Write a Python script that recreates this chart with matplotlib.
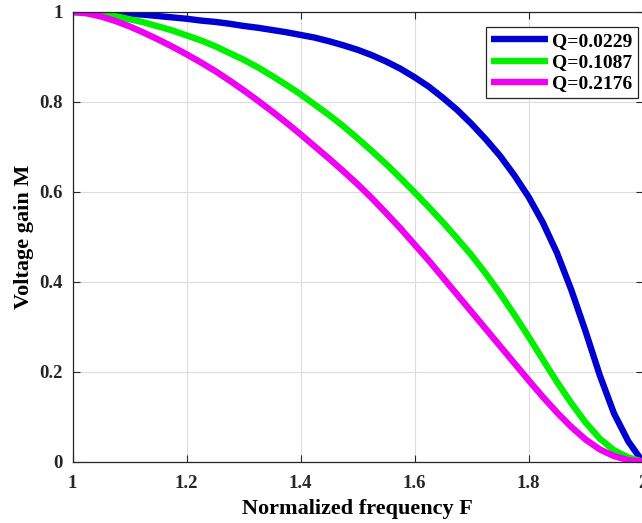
import matplotlib
matplotlib.use("Agg")
import matplotlib.pyplot as plt

plt.rcParams['font.family'] = ['Liberation Serif', 'DejaVu Serif']
plt.rcParams['font.weight'] = 'bold'

# normalized frequency F
freq = [1.000, 1.025, 1.050, 1.075, 1.100, 1.125, 1.150, 1.175, 1.200, 1.225,
        1.250, 1.275, 1.300, 1.325, 1.350, 1.375, 1.400, 1.425, 1.450, 1.475,
        1.500, 1.525, 1.550, 1.575, 1.600, 1.625, 1.650, 1.675, 1.700, 1.725,
        1.750, 1.775, 1.800, 1.825, 1.850, 1.875, 1.900, 1.925, 1.950, 1.975,
        2.000]

# voltage gain M for each quality factor
gain_q1 = [1.000, 1.000, 0.999, 0.998, 0.996, 0.994, 0.991, 0.988, 0.985, 0.981,
           0.978, 0.974, 0.969, 0.965, 0.960, 0.955, 0.949, 0.943, 0.935, 0.926,
           0.916, 0.904, 0.890, 0.874, 0.855, 0.834, 0.809, 0.782, 0.751, 0.717,
           0.680, 0.637, 0.589, 0.532, 0.464, 0.382, 0.290, 0.192, 0.107, 0.045,
           0.000]
gain_q2 = [1.000, 0.999, 0.996, 0.991, 0.984, 0.977, 0.968, 0.959, 0.948, 0.937,
           0.924, 0.909, 0.894, 0.877, 0.858, 0.838, 0.817, 0.794, 0.771, 0.746,
           0.719, 0.691, 0.662, 0.631, 0.599, 0.566, 0.532, 0.496, 0.459, 0.418,
           0.374, 0.327, 0.278, 0.227, 0.177, 0.130, 0.087, 0.051, 0.025, 0.009,
           0.000]
gain_q3 = [1.000, 0.997, 0.990, 0.980, 0.968, 0.954, 0.939, 0.923, 0.906, 0.888,
           0.869, 0.848, 0.826, 0.803, 0.779, 0.754, 0.728, 0.701, 0.674, 0.646,
           0.617, 0.586, 0.553, 0.519, 0.483, 0.447, 0.409, 0.371, 0.333, 0.295,
           0.257, 0.219, 0.181, 0.144, 0.109, 0.077, 0.049, 0.027, 0.012, 0.003,
           0.000]

labels = ['Q=0.0229', 'Q=0.1087', 'Q=0.2176']
colors = ['#0000d0', '#00f000', '#f000f0']

fig = plt.figure(figsize=(6.42, 5.23), dpi=100)
ax = fig.add_axes([72.5 / 642, 1 - 461.5 / 523, 570 / 642, 449.5 / 523])

for g, lab, c in zip([gain_q1, gain_q2, gain_q3], labels, colors):
    ax.plot(freq, g, color=c, linewidth=4.6, label=lab,
            solid_joinstyle='round', solid_capstyle='butt')

ax.set_xlim(1, 2)
ax.set_ylim(0, 1)
ax.set_xticks([1, 1.2, 1.4, 1.6, 1.8, 2])
ax.set_xticklabels(['1', '1.2', '1.4', '1.6', '1.8', '2'])
ax.set_yticks([0, 0.2, 0.4, 0.6, 0.8, 1])
ax.set_yticklabels(['0', '0.2', '0.4', '0.6', '0.8', '1'])
ax.grid(True, color='#dcdcdc', linewidth=0.8)
ax.set_axisbelow(True)
ax.tick_params(direction='in', length=5, width=0.8, top=True, right=True,
               labelsize=13.5, colors='#262626')
ax.tick_params(axis='x', pad=10)
ax.tick_params(axis='y', pad=7)
for s in ax.spines.values():
    s.set_color('#262626')
    s.set_linewidth(0.9)

ax.set_xlabel('Normalized frequency F', fontsize=16, fontweight='bold', labelpad=5)
ax.set_ylabel('Voltage gain M', fontsize=16, fontweight='bold', labelpad=4)

leg = ax.legend(loc='upper right', bbox_to_anchor=(0.992, 0.967), borderaxespad=0,
                fontsize=14, handlelength=2.9, handletextpad=0.2, labelspacing=0.18,
                borderpad=0.3, fancybox=False, framealpha=1, edgecolor='#262626')
leg.get_frame().set_linewidth(0.9)

fig.savefig('out.png', dpi=100)
